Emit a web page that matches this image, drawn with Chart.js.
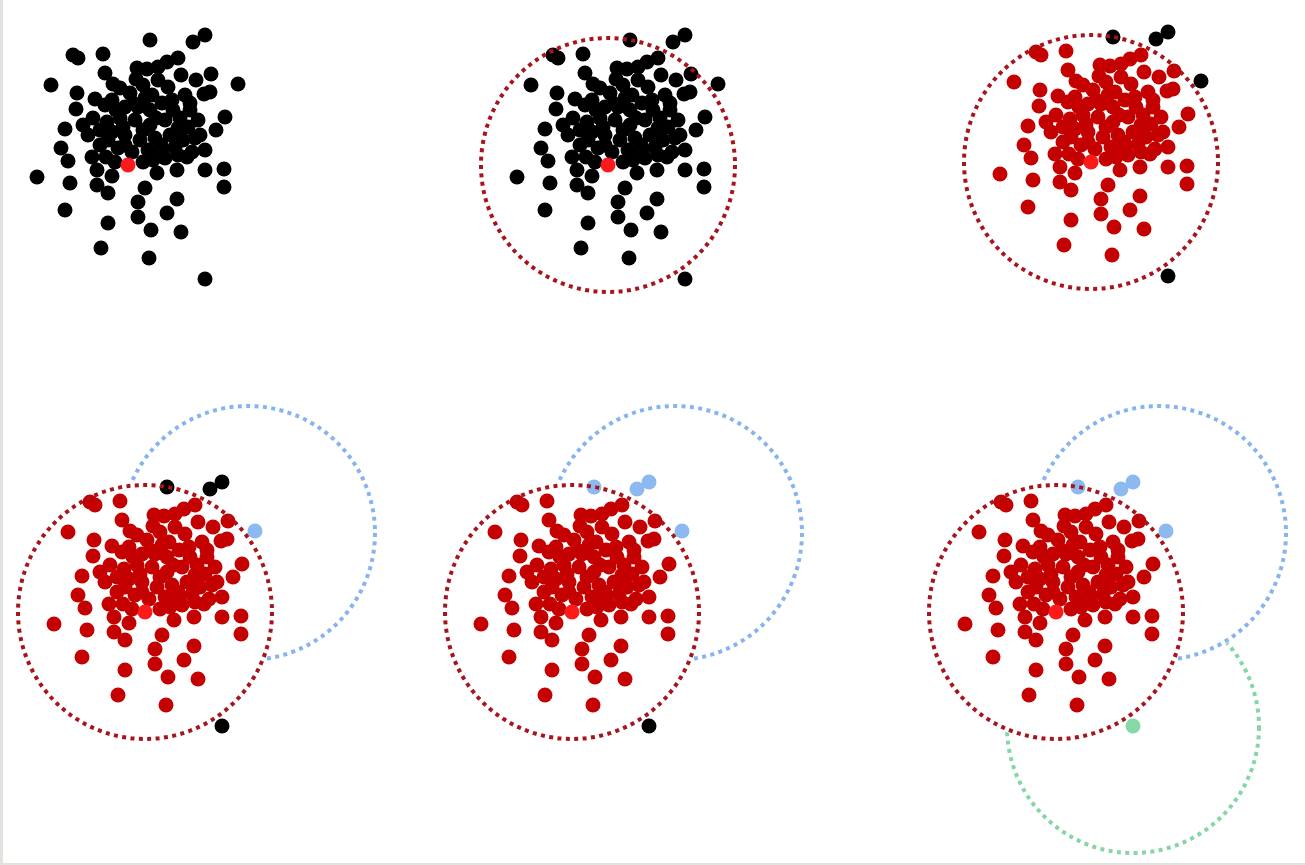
<!DOCTYPE html>
<html>
<head>
<meta charset="utf-8">
<script src="https://cdn.jsdelivr.net/npm/chart.js@4"></script>
<style>
  html, body { margin: 0; padding: 0; background: #e3e3dd; }
  #sheet { position: absolute; left: 3px; top: 0; width: 1302px; height: 863px; background: #fff; }
  canvas { position: absolute; left: 0; top: 0; pointer-events: none; }
</style>
</head>
<body>
<div id="sheet"></div>

<script>
// Point cloud, offsets from the seed point (x right, y up)
const clusterX = [-55, -50, -25, 50, 39, 9, 19, 30, 53, 83, -23, -77, -15, 15, 40, 68, 76, 82, -51, 2,
  -33, -16, -52, -35, -21, -63, 97, 88, -40, -28, -67, 67, -60, -36, -91, -58, -31, -31, -20, 29,
  17, 10, 10, 49, 77, 96, 96, 49, 39, -63, -20, 23, 53, -27, 21, -3, 10, 22, 34, 44,
  -8, 24, 30, 57, 62, -8, 7, 22, 37, 52, 70, -16, -3, 12, 27, 42, 55, -10, 4, 20,
  34, 50, 64, -13, 15, 37, 59, 77, 17, 50, -23, -28, -16,
  5, -12, 28, 45, 60, -5, 15, 33, -20, -3, 47, 25, -22, 72, -45, 62, 8];
const clusterY = [110, 107, 111, 107, 103, 97, 96, 98, 90, 91, 92, 80, 81, 80, 78, 85, 71, 73, 72, 72,
  66, 65, 56, 47, 43, 36, 48, 35, 30, 20, 17, 27, 4, 8, -12, -18, -5, -20, -28, -8,
  -23, -37, -52, -5, -5, -4, -22, -34, -48, -45, -58, -65, -67, -83, -93, 58, 58, 55, 62, 65,
  77, 70, 85, 70, 55, 47, 45, 40, 45, 47, 45, 33, 30, 25, 27, 30, 25, 17, 13, 15,
  13, 10, 13, 3, 3, 7, 8, 15, 67, 37, 60, 35, -11,
  62, 55, 47, 55, 38, 38, 35, 20, 25, 20, 18, 5, 8, 30, 40, 62, 86];

// The five outlying points that change state from panel to panel
const outlierX = [22, 65, 77, 110, 77];
const outlierY = [125, 123, 130, 81, -114];

// Colour of every point class
const BLACK = "#000000";
const RED = "#c40000";
const SEED = "#ff1a1a";
const BLUE = "#8cb9f0";
const GREEN = "#86d9a6";

// Per panel: colour of the cloud, colours of the outliers, and the rings drawn
const cloudColor = [BLACK, BLACK, RED, RED, RED, RED];
const outlierColors = [
  [BLACK, BLACK, BLACK, BLACK, BLACK],
  [BLACK, BLACK, BLACK, BLACK, BLACK],
  [BLACK, BLACK, BLACK, BLACK, BLACK],
  [BLACK, BLACK, BLACK, BLUE, BLACK],
  [BLUE, BLUE, BLUE, BLUE, BLACK],
  [BLUE, BLUE, BLUE, BLUE, GREEN],
];
const EPS = 127;
const ringRed = { cx: 0, cy: 0, r: EPS, color: "#a8141c" };
const ringBlue = { cx: 103, cy: 79, r: EPS, color: "#86b4ee" };
const ringGreen = { cx: 77, cy: -115, r: 126, color: "#84d6a6" };
const panelRings = [
  [],
  [ringRed],
  [ringRed],
  [ringRed, ringBlue],
  [ringRed, ringBlue],
  [ringRed, ringBlue, ringGreen],
];

// Where each panel's seed point sits on the page (layout)
const panelAnchor = [[128, 165], [608, 165], [1091, 162], [145, 612], [572, 612], [1056, 612]];
const W = 1305, H = 865;

// Dotted rings, each clipped to lie outside the rings drawn before it
const ringPlugin = {
  id: "rings",
  afterDatasetsDraw(chart, args, opts) {
    const ctx = chart.ctx;
    const xs = chart.scales.x, ys = chart.scales.y;
    const drawn = [];
    (opts.list || []).forEach((ring) => {
      const px = xs.getPixelForValue(ring.cx);
      const py = ys.getPixelForValue(ring.cy);
      const pr = Math.abs(xs.getPixelForValue(ring.r) - xs.getPixelForValue(0));
      ctx.save();
      drawn.forEach((d) => {
        ctx.beginPath();
        ctx.rect(0, 0, chart.width, chart.height);
        ctx.arc(d.x, d.y, d.r + 2.5, 0, Math.PI * 2);
        ctx.clip("evenodd");
      });
      ctx.beginPath();
      ctx.arc(px, py, pr, 0, Math.PI * 2);
      ctx.strokeStyle = ring.color;
      ctx.lineWidth = 4;
      ctx.setLineDash([4, 4.4]);
      ctx.stroke();
      ctx.restore();
      drawn.push({ x: px, y: py, r: pr });
    });
  },
};

const cloudPoints = clusterX.map((x, i) => ({ x, y: clusterY[i] }));
const outlierPoints = outlierX.map((x, i) => ({ x, y: outlierY[i] }));

panelAnchor.forEach(([ax, ay], p) => {
  const canvas = document.createElement("canvas");
  canvas.width = W;
  canvas.height = H;
  canvas.style.width = W + "px";
  canvas.style.height = H + "px";
  document.body.appendChild(canvas);

  new Chart(canvas.getContext("2d"), {
    type: "scatter",
    data: {
      datasets: [
        { data: [{ x: 0, y: 0 }], backgroundColor: SEED, pointRadius: 7.5, borderWidth: 0, clip: false },
        { data: outlierPoints, backgroundColor: outlierColors[p], pointRadius: 7.5, borderWidth: 0, clip: false },
        { data: cloudPoints, backgroundColor: cloudColor[p], pointRadius: 7.5, borderWidth: 0, clip: false },
      ],
    },
    options: {
      responsive: false,
      animation: false,
      events: [],
      layout: { padding: 0, autoPadding: false },
      plugins: {
        legend: { display: false },
        tooltip: { enabled: false },
        rings: { list: panelRings[p] },
      },
      scales: {
        x: { type: "linear", display: false, min: -ax, max: W - ax },
        y: { type: "linear", display: false, min: -(H - ay), max: ay },
      },
    },
    plugins: [ringPlugin],
  });
});
</script>
</body>
</html>
